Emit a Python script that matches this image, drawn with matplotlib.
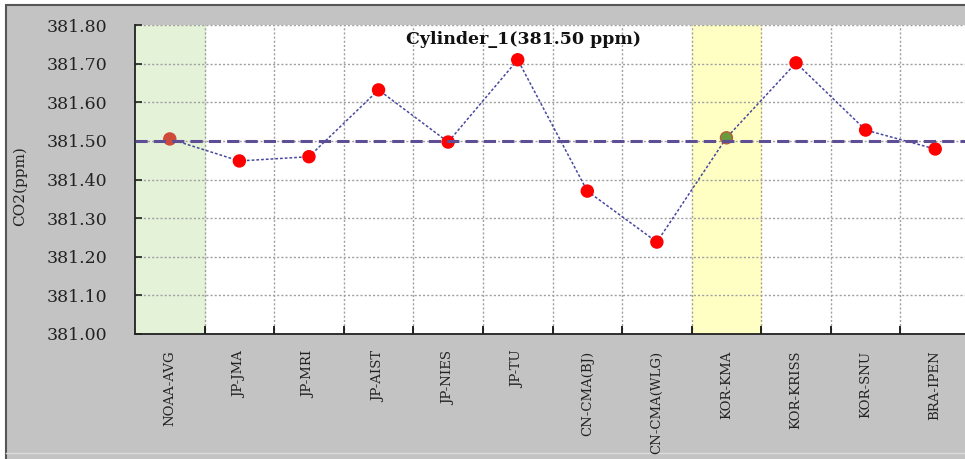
import matplotlib
matplotlib.use("Agg")
import matplotlib.pyplot as plt
from matplotlib.patches import Rectangle
from matplotlib.lines import Line2D

# data
labs = ["NOAA-AVG", "JP-JMA", "JP-MRI", "JP-AIST", "JP-NIES", "JP-TU",
        "CN-CMA(BJ)", "CN-CMA(WLG)", "KOR-KMA", "KOR-KRISS", "KOR-SNU", "BRA-IPEN"]
co2 = [381.505, 381.448, 381.459, 381.632, 381.497, 381.710,
       381.370, 381.238, 381.508, 381.702, 381.528, 381.479]
ref_val = 381.50
yticks = [381.0, 381.1, 381.2, 381.3, 381.4, 381.5, 381.6, 381.7, 381.8]
ref_idx = 0      # NOAA column (green)
lab_idx = 8      # KOR-KMA column (yellow)

fnt = "DejaVu Serif"

fig = plt.figure(figsize=(9.65, 4.59), dpi=100, facecolor="white")

# grey panel behind the chart
fig.patches.append(Rectangle((6/965, -0.01), 1.0, 1 - 5/459 + 0.01, transform=fig.transFigure,
                             facecolor="#c3c3c3", edgecolor="#555555", linewidth=1.5, zorder=-2))
fig.lines.append(Line2D([6/965, 1], [1 - 453/459]*2, transform=fig.transFigure,
                        color="#dcdcdc", linewidth=1, zorder=-1))

ax = fig.add_axes([135/965, 1 - 334/459, 835/965, 309/459])
ax.set_facecolor("white")

x = list(range(len(labs)))
ax.axvspan(ref_idx - 0.5, ref_idx + 0.5, color="#e4f2d8", zorder=0)
ax.axvspan(lab_idx - 0.5, lab_idx + 0.5, color="#ffffc4", zorder=0)

ax.plot(x, co2, color="#4848a0", linewidth=1.1, dashes=(1.8, 1.3), zorder=3)
cols = ["#d04a3a" if i == ref_idx else ("#6a9a3c" if i == lab_idx else "#ff0000") for i in x]
edges = ["#d04a3a" if i == ref_idx else ("#b5603a" if i == lab_idx else "#ff0000") for i in x]
ax.scatter(x, co2, s=75, c=cols, edgecolors=edges, linewidths=1, zorder=4)

ax.axhline(ref_val, color="#5e4f95", linewidth=2.2, dashes=(4, 2), zorder=5)

ax.set_xlim(-0.5, len(labs) - 0.5)
ax.set_ylim(381.0, 381.8)

ax.set_yticks(yticks)
ax.set_yticklabels(["%.2f" % v for v in yticks], fontfamily=fnt, fontsize=12.5)
ax.set_xticks([i + 0.5 for i in x[:-1]])
ax.set_xticklabels([])
ax.set_xticks(x, minor=True)
ax.set_xticklabels(labs, minor=True, rotation=90, fontfamily=fnt, fontsize=9.5, va="top")
ax.tick_params(axis="y", direction="in", length=5, width=1.2, pad=20, colors="#222222")
ax.tick_params(axis="x", which="major", direction="in", length=6, width=1.2)
ax.tick_params(axis="x", which="minor", length=0, pad=12, colors="#222222")

ax.grid(True, which="major", color="#a0a0a0", linewidth=1, dashes=(1.5, 1.5))
ax.set_axisbelow(True)

for s in ["top", "right"]:
    ax.spines[s].set_visible(False)
for s in ["left", "bottom"]:
    ax.spines[s].set_color("#222222")
    ax.spines[s].set_linewidth(1.3)

ax.text((524 - 135) / 835, (334 - 40) / 309, "Cylinder_1(381.50 ppm)", transform=ax.transAxes,
        ha="center", va="center", fontfamily=fnt, fontsize=12.5, fontweight="bold", color="#111111")

fig.text(20 / 965, 1 - 186 / 459, "CO2(ppm)", rotation=90, ha="center", va="center",
         fontfamily=fnt, fontsize=11, color="#222222")

fig.savefig("out.png", dpi=100)
